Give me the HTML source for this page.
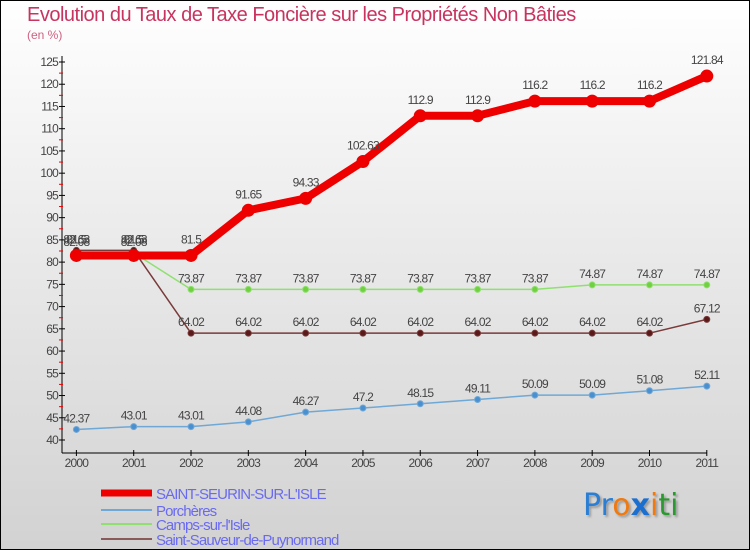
<!DOCTYPE html>
<html><head><meta charset="utf-8"><style>
body{margin:0}
#c{width:750px;height:550px;position:relative;box-sizing:border-box;border:1px solid #000;background:linear-gradient(#fff 0%,#ececec 40%,#d2d2d2 100%);font-family:"Liberation Sans",sans-serif;overflow:hidden}
.t{position:absolute;color:#c8345f}
</style></head><body>
<div id="c">
<div class="t" style="left:26px;top:3px;font-size:20px;letter-spacing:-0.5px">Evolution du Taux de Taxe Foncière sur les Propriétés Non Bâties</div>
<div class="t" style="left:26px;top:27px;font-size:12px;color:#d06080">(en %)</div>
<svg id="s" width="750" height="550" style="position:absolute;left:0;top:0"></svg>
<div style="position:absolute;left:582px;top:487px;font-size:30px;font-family:'DejaVu Sans',sans-serif;text-shadow:2px 2px 2px #999"><span style="color:#2a7fd4">Pr</span><span style="color:#f07a10">o</span><span style="color:#1a6fd0;font-weight:bold">x</span><span style="color:#f07a10">i</span><span style="color:#2a9a30">ti</span></div>
</div>
<script>
const years=[2000,2001,2002,2003,2004,2005,2006,2007,2008,2009,2010,2011];
const yTicks=[40,45,50,55,60,65,70,75,80,85,90,95,100,105,110,115,120,125];
const names=["SAINT-SEURIN-SUR-L'ISLE","Porchères","Camps-sur-l'Isle","Saint-Sauveur-de-Puynormand"];
const vSeurin=[81.5,81.5,81.5,91.65,94.33,102.63,112.9,112.9,116.2,116.2,116.2,121.84];
const vPorch=[42.37,43.01,43.01,44.08,46.27,47.2,48.15,49.11,50.09,50.09,51.08,52.11];
const vCamps=[82.08,82.08,73.87,73.87,73.87,73.87,73.87,73.87,73.87,74.87,74.87,74.87];
const vSauv=[82.63,82.63,64.02,64.02,64.02,64.02,64.02,64.02,64.02,64.02,64.02,67.12];
const lSeurin=["81.5","81.5","81.5","91.65","94.33","102.63","112.9","112.9","116.2","116.2","116.2","121.84"];
const lPorch=["42.37","43.01","43.01","44.08","46.27","47.2","48.15","49.11","50.09","50.09","51.08","52.11"];
const lCamps=["82.08","82.08","73.87","73.87","73.87","73.87","73.87","73.87","73.87","74.87","74.87","74.87"];
const lSauv=["82.63","82.63","64.02","64.02","64.02","64.02","64.02","64.02","64.02","64.02","64.02","67.12"];
const NS="http://www.w3.org/2000/svg",s=document.getElementById('s');
const X=i=>75.4+i*(705.8-75.4)/11;
const Y=v=>439-(v-40)*(439-61)/85;
function mk(t,a,p){const e=document.createElementNS(NS,t);for(const k in a)e.setAttribute(k,a[k]);(p||s).appendChild(e);return e;}
// axes
let ya=mk('line',{x1:61,y1:55,x2:61,y2:452,stroke:'#000'});


let xa=mk('line',{x1:61,y1:452,x2:706,y2:452,stroke:'#000'});


yTicks.forEach(v=>{
 mk('line',{x1:58,y1:Y(v),x2:64,y2:Y(v),stroke:'#000'});
 if(v<125)mk('line',{x1:58,y1:Y(v+2.5),x2:62,y2:Y(v+2.5),stroke:'#e00'});
 const t=mk('text',{x:57,y:Y(v)+4,'text-anchor':'end','font-size':12,fill:'#444','letter-spacing':'-0.8'});t.textContent=v;
 
 
});
years.forEach((y,i)=>{
 mk('line',{x1:X(i),y1:449,x2:X(i),y2:455,stroke:'#000'});
 const t=mk('text',{x:X(i),y:466,'text-anchor':'middle','font-size':12,fill:'#444','letter-spacing':'-0.8'});t.textContent=y;
 
 
});
function series(vals,labs,col,w,r,dot,name,lblDy){
 const g=mk('g',{});
 
 
 mk('polyline',{points:vals.map((v,i)=>X(i)+','+Y(v)).join(' '),fill:'none',stroke:col,'stroke-width':w,'stroke-linejoin':'round'},g);
 vals.forEach((v,i)=>{
  const c=mk('circle',{cx:X(i),cy:Y(v),r:r,fill:dot,stroke:col,'stroke-width':1},g);
  
  
  const t=mk('text',{x:X(i),y:Y(v)+lblDy,'text-anchor':'middle','font-size':12,fill:'#444','letter-spacing':'-0.8'},g);t.textContent=labs[i];
 });
}
series(vPorch,lPorch,'#6fa8d6',1.5,3,'#4a90d0','porcheres-series',-7);
series(vSauv,lSauv,'#7a3a3a',1.5,3,'#5a1a1a','saint-sauveur-series',-7);
series(vCamps,lCamps,'#90e070',1.5,3,'#70d040','camps-series',-7);
series(vSeurin,lSeurin,'#ee0000',8,6,'#ee0000','saint-seurin-series',-12);
// legend
const cols=['#ee0000','#6fa8d6','#90e070','#8a5a5a'],ws=[7,2,2,2],ly=[492,509,523,538];
names.forEach((n,i)=>{
 const g=mk('g',{});
 
 
 mk('line',{x1:100,y1:ly[i]-0,x2:151,y2:ly[i],stroke:cols[i],'stroke-width':ws[i]},g);
 const t=mk('text',{x:155,y:ly[i]+6,'font-size':15,fill:'#6a6af0','letter-spacing':'-0.9'},g);t.textContent=n;
});
</script>
</body></html>
